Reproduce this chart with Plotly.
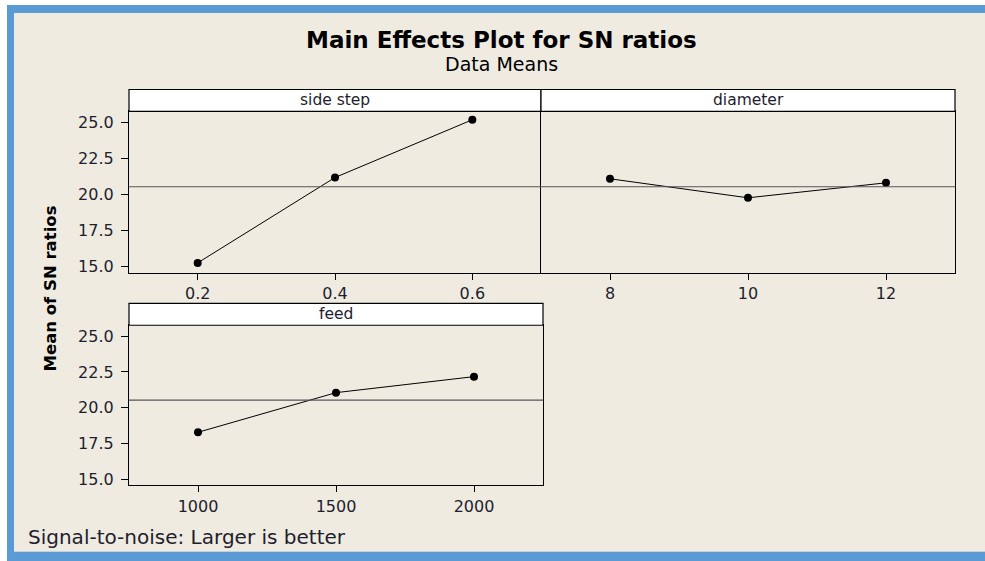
import plotly.graph_objects as go

# ---- data ----
side_step_levels = [0.2, 0.4, 0.6]
side_step_sn = [15.24, 21.17, 25.18]
diameter_levels = [8, 10, 12]
diameter_sn = [21.08, 19.76, 20.80]
feed_levels = [1000, 1500, 2000]
feed_sn = [18.28, 21.05, 22.17]
panel_titles = ["side step", "diameter", "feed"]
y_ticks = [15.0, 17.5, 20.0, 22.5, 25.0]
y_tick_text = ["15.0", "17.5", "20.0", "22.5", "25.0"]

grand_mean = (sum(side_step_sn) + sum(diameter_sn) + sum(feed_sn)) / 9.0

W, H = 985, 561
BEIGE = "#EFEBE1"
BLUE = "#5B9BD5"
FONT = "DejaVu Sans"
TXT = "#1e1e2e"

def px(x):
    return x / W

def py(y):
    return 1 - y / H

# panel boxes (pixels): left, right, strip top, plot top, plot bottom
panels = [
    (129, 541, 90, 112, 274),
    (541, 955, 90, 112, 274),
    (129, 543, 305, 327, 488),
]
yr = [14.57, 25.76]

fig = go.Figure()

series = [(side_step_levels, side_step_sn), (diameter_levels, diameter_sn), (feed_levels, feed_sn)]
xranges = [[0.1, 0.7], [7, 13], [750, 2250]]
xticks = [side_step_levels, diameter_levels, feed_levels]
xtext = [["0.2", "0.4", "0.6"], ["8", "10", "12"], ["1000", "1500", "2000"]]

shapes = [
    dict(type="rect", xref="paper", yref="paper", x0=px(7), x1=1.01, y0=-0.01, y1=py(5),
         fillcolor=BLUE, line=dict(width=0), layer="below"),
    dict(type="rect", xref="paper", yref="paper", x0=px(14), x1=1.01, y0=py(554), y1=py(13),
         fillcolor=BEIGE, line=dict(width=0), layer="below"),
    dict(type="line", xref="paper", yref="paper", x0=px(14), x1=1.01, y0=py(554.5), y1=py(554.5),
         line=dict(color="#C8D4DE", width=1), layer="below"),
]
annotations = []

for i, (xs, ys) in enumerate(series):
    l, r, st, pt, pb = panels[i]
    xa = "xaxis" if i == 0 else f"xaxis{i+1}"
    ya = "yaxis" if i == 0 else f"yaxis{i+1}"
    xref = "x" if i == 0 else f"x{i+1}"
    yref = "y" if i == 0 else f"y{i+1}"
    fig.add_trace(go.Scatter(
        x=xs, y=ys, mode="lines+markers", xaxis=xref, yaxis=yref,
        line=dict(color="black", width=1),
        marker=dict(color="black", size=8),
        showlegend=False, hoverinfo="x+y"))
    fig.layout[xa] = dict(
        domain=[px(l), px(r)], range=xranges[i], anchor=yref,
        showline=True, mirror=True, linecolor="black", linewidth=1.2,
        ticks="outside", ticklen=6, tickcolor="black", tickwidth=1,
        tickvals=xticks[i], ticktext=xtext[i], showgrid=False, zeroline=False,
        tickfont=dict(family=FONT, size=16, color=TXT), fixedrange=True)
    show_y = i != 1
    fig.layout[ya] = dict(
        domain=[py(pb), py(pt)], range=yr, anchor=xref,
        showline=True, mirror=(i != 0), linecolor="black", linewidth=1.2,
        ticks="outside" if show_y else "", ticklen=7, tickcolor="black",
        tickvals=y_ticks, ticktext=y_tick_text, showticklabels=show_y,
        ticklabelstandoff=4,
        showgrid=False, zeroline=False,
        tickfont=dict(family=FONT, size=16, color=TXT), fixedrange=True)
    # mean reference line
    shapes.append(dict(type="line", xref=f"{xref} domain", yref=yref,
                       x0=0, x1=1, y0=grand_mean, y1=grand_mean,
                       line=dict(color="#555555", width=1.2)))
    # strip
    shapes.append(dict(type="rect", xref="paper", yref="paper",
                       x0=px(l), x1=px(r), y0=py(pt), y1=py(st),
                       fillcolor="white", line=dict(color="black", width=1.2)))
    annotations.append(dict(text=panel_titles[i], xref="paper", yref="paper",
                            x=px((l + r) / 2), y=py((st + pt) / 2),
                            xanchor="center", yanchor="middle", showarrow=False,
                            font=dict(family=FONT, size=15.5, color=TXT)))

annotations += [
    dict(text="<b>Main Effects Plot for SN ratios</b>", xref="paper", yref="paper",
         x=px(501), y=py(40), xanchor="center", yanchor="middle", showarrow=False,
         font=dict(family=FONT, size=23, color="black")),
    dict(text="Data Means", xref="paper", yref="paper",
         x=px(501), y=py(64), xanchor="center", yanchor="middle", showarrow=False,
         font=dict(family=FONT, size=19, color="black")),
    dict(text="<b>Mean of SN ratios</b>", xref="paper", yref="paper",
         x=px(50), y=py(290), xanchor="center", yanchor="middle", showarrow=False,
         textangle=-90, font=dict(family=FONT, size=16.5, color="black")),
    dict(text="Signal-to-noise: Larger is better", xref="paper", yref="paper",
         x=px(26), y=py(540), xanchor="left", yanchor="middle", showarrow=False,
         font=dict(family=FONT, size=20, color=TXT)),
]

fig.update_layout(
    width=W, height=H, margin=dict(l=0, r=0, t=0, b=0),
    paper_bgcolor="white", plot_bgcolor="white",
    shapes=shapes, annotations=annotations, showlegend=False,
)

fig.write_html("out.html", config={"displayModeBar": False},
               post_script="document.body.style.margin='0';document.body.style.overflow='hidden';")
